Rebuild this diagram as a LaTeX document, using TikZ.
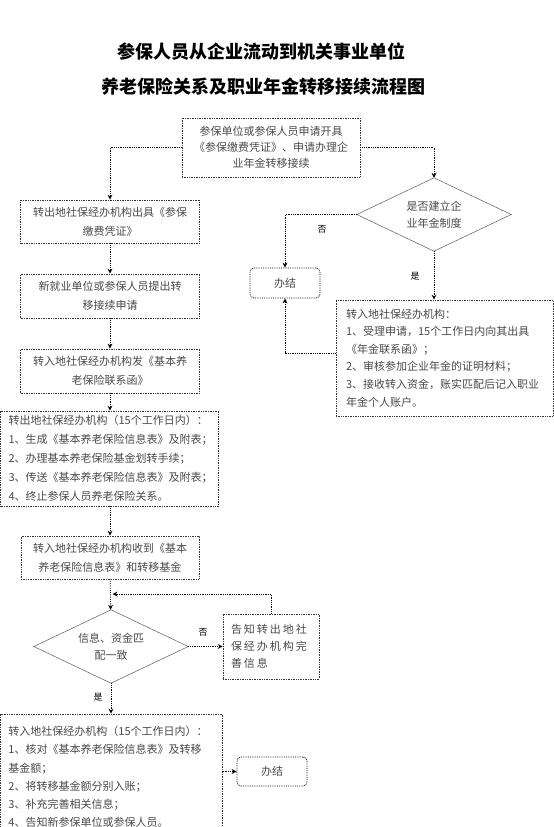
\documentclass[tikz,border=0pt]{standalone}
\usepackage{fontspec}
\setmainfont{Noto Sans CJK SC}
\newfontfamily\cjk{Noto Sans CJK SC}
\usetikzlibrary{arrows.meta,calc}
\definecolor{txt}{HTML}{4A4A4A}
\definecolor{ln}{HTML}{333333}
\tikzset{
  box/.style={draw=ln, densely dotted, line width=0.7pt, inner sep=0pt, text=txt,
    font=\cjk\fontsize{11}{19}\selectfont},
  endbox/.style={box, draw=black, line width=0.8pt, rounded corners=4pt},
  dia/.style={draw=none, inner sep=0pt, text=txt, font=\cjk\fontsize{11}{17}\selectfont},
  diaedge/.style={draw=ln!80, line width=0.5pt},
  conn/.style={draw=black, densely dotted, line width=0.8pt},
  arr/.style={conn, -{Stealth[length=5pt,width=5pt,line width=0pt,sep=0pt]}},
  lbl/.style={inner sep=0pt, text=black, font=\cjk\fontsize{9}{9}\selectfont},
  ttl/.style={inner sep=0pt, text=black, font=\cjk\bfseries\fontsize{18}{18}\selectfont}
}
\begin{document}
\begin{tikzpicture}[x=1pt,y=-1pt]
\useasboundingbox (0,0) rectangle (554,827);
\clip (0,0) rectangle (554,827);
\fill[white] (0,0) rectangle (554,827);
% titles
\node[ttl] (t1) at (261,52) {参保人员从企业流动到机关事业单位};
\node[ttl] (t2) at (263,87) {养老保险关系及职业年金转移接续流程图};
% top box
\node[box, minimum width=178pt, minimum height=59pt, align=center,
  font=\cjk\fontsize{11}{16}\selectfont] (top) at (271,147.5)
  {参保单位或参保人员申请开具\\《参保缴费凭证》、申请办理企\\业年金转移接续};
% left column
\node[box, minimum width=179pt, minimum height=43pt, align=center] (b1) at (110,221.5)
  {转出地社保经办机构出具《参保\\缴费凭证》};
\node[box, minimum width=179pt, minimum height=44pt, align=center] (b2) at (110,296)
  {新就业单位或参保人员提出转\\移接续申请};
\node[box, minimum width=179pt, minimum height=44pt, align=center] (b3) at (110,371)
  {转入地社保经办机构发《基本养\\老保险联系函》};
\node[box, minimum width=218pt, minimum height=95pt, align=left, text width=202pt] (b4) at (109.6,458.5)
  {转出地社保经办机构（15个工作日内）：\\1、生成《基本养老保险信息表》及附表；\\2、办理基本养老保险基金划转手续；\\3、传送《基本养老保险信息表》及附表；\\4、终止参保人员养老保险关系。};
\node[box, minimum width=178pt, minimum height=43pt, align=center] (b5) at (110,557.5)
  {转入地社保经办机构收到《基本\\养老保险信息表》和转移基金};
% lower diamond
\node[dia, minimum width=154pt, minimum height=73pt, align=center] (d2) at (111,646.5)
  {信息、资金匹\\配一致};
\draw[diaedge] (d2.west) -- (d2.north) -- (d2.east) -- (d2.south) -- cycle;
\node[box, minimum width=96pt, minimum height=65pt, align=left, text width=80pt,
  font=\cjk\fontsize{11}{17}\selectfont\addfontfeature{LetterSpace=18}] (tell) at (271,646.5)
  {告知转出地社\\保经办机构完\\善信息};
\node[box, minimum width=222pt, minimum height=126pt, align=left, text width=206pt,
  font=\cjk\fontsize{11}{18.3}\selectfont] (b6) at (111.5,777)
  {转入地社保经办机构（15个工作日内）：\\1、核对《基本养老保险信息表》及转移\\基金额；\\2、将转移基金额分别入账；\\3、补充完善相关信息；\\4、告知新参保单位或参保人员。};
\node[endbox, minimum width=70pt, minimum height=29pt] (end2) at (272,771.5) {办结};
% right side
\node[dia, minimum width=154pt, minimum height=73pt, align=center] (d1) at (434,214.5)
  {是否建立企\\业年金制度};
\draw[diaedge] (d1.west) -- (d1.north) -- (d1.east) -- (d1.south) -- cycle;
\node[endbox, minimum width=70pt, minimum height=30pt] (end1) at (285,283) {办结};
\node[box, minimum width=217pt, minimum height=116pt, align=left, text width=197pt,
  font=\cjk\fontsize{11}{17.6}\selectfont] (rb) at (444.5,358)
  {转入地社保经办机构：\\1、受理申请，15个工作日内向其出具\\《年金联系函》；\\2、审核参加企业年金的证明材料；\\3、接收转入资金，账实匹配后记入职业\\年金个人账户。};
% connectors
\draw[arr] (top.west) -| (b1.north);
\draw[arr] (top.east) -| (d1.north);
\draw[arr] (b1) -- (b2);
\draw[arr] (b2) -- (b3);
\draw[arr] (b3.south) -- (b3.south |- b4.north);
\draw[arr] (b4.south -| b5.north) -- (b5.north);
\draw[arr] (b5) -- (d2);
\draw[arr] (d1.west) -| (end1.north);
\draw[arr] (d1.south) -- (d1.south |- rb.north);
\draw[arr] ([yshift=5pt]rb.west) -| (end1.south);
\draw[arr] (d2.east) -- (tell.west);
\coordinate (lp) at (112.5,594);
\draw[arr] (tell.north) |- (lp);
\draw[arr] (d2.south) -- (d2.south |- b6.north);
\draw[arr] (end2.west -| b6.east) -- (end2.west);
% labels
\node[lbl] (l1) at (322,229) {否};
\node[lbl] (l2) at (415,276) {是};
\node[lbl] (l3) at (203,632) {否};
\node[lbl] (l4) at (98,697) {是};
\end{tikzpicture}
\end{document}
